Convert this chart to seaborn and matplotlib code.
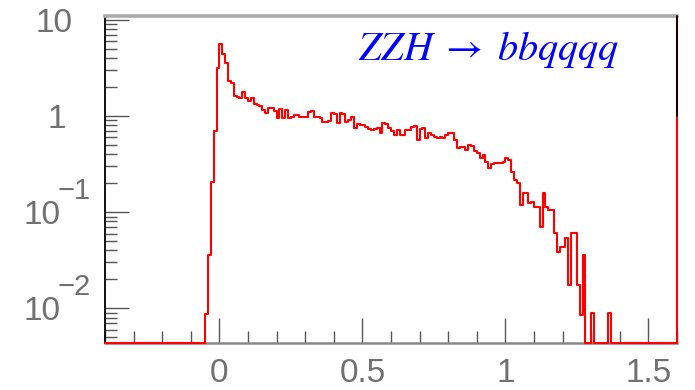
import numpy as np
import pandas as pd
import matplotlib
matplotlib.use("Agg")
import matplotlib.pyplot as plt
import matplotlib.transforms as mtransforms
from matplotlib.ticker import FixedLocator, LogLocator, NullFormatter, MultipleLocator
import seaborn as sns

# ---------------- data ----------------
x_min, x_max = -0.4, 1.6
bin_width = 0.01
y_lo, y_hi = 0.00437, 11.0

# bins left of -0.05 are empty (35 bins)
n_empty_left = 35
# bin contents from -0.05 to 1.36 (bin width 0.01)
bin_values = [
    0.0087, 0.036, 0.206, 0.69, 3.16, 5.60, 4.40, 3.56, 2.31, 2.20,      # -0.05 .. 0.04
    1.61, 1.58, 1.54, 1.78, 1.54, 1.43, 1.54, 1.33, 1.30, 1.27,          # 0.05 .. 0.14
    1.15, 1.07, 1.21, 1.21, 1.13, 0.953, 1.18, 0.953, 1.15, 0.953,       # 0.15 .. 0.24
    0.977, 1.02, 1.02, 0.977, 0.977, 0.977, 1.10, 1.13, 0.977, 0.977,    # 0.25 .. 0.34
    0.953, 0.867, 0.867, 0.887, 1.07, 1.05, 0.846, 1.07, 1.05, 0.867,    # 0.35 .. 0.44
    0.909, 0.977, 0.751, 0.826, 0.806, 0.806, 0.769, 0.733, 0.715, 0.733,  # 0.45 .. 0.54
    0.751, 0.666, 0.846, 0.826, 0.751, 0.698, 0.634, 0.715, 0.634, 0.634,  # 0.55 .. 0.64
    0.715, 0.715, 0.769, 0.787, 0.563, 0.733, 0.751, 0.591, 0.666, 0.634,  # 0.65 .. 0.74
    0.605, 0.591, 0.605, 0.591, 0.634, 0.666, 0.666, 0.563, 0.465, 0.476,  # 0.75 .. 0.84
    0.476, 0.443, 0.500, 0.488, 0.433, 0.412, 0.366, 0.393, 0.333, 0.288,  # 0.85 .. 0.94
    0.317, 0.325, 0.325, 0.325, 0.333, 0.366, 0.349, 0.262, 0.216, 0.201,  # 0.95 .. 1.04
    0.119, 0.158, 0.158, 0.125, 0.128, 0.113, 0.113, 0.070, 0.158, 0.113,  # 1.05 .. 1.14
    0.105, 0.105, 0.0608, 0.0386, 0.0435, 0.0435, 0.0540, 0.0175, 0.0608, 0.0608,  # 1.15 .. 1.24
    0.0175, 0.0085, 0.0359, 0.0, 0.0, 0.0090, 0.0, 0.0, 0.0, 0.0,        # 1.25 .. 1.34
    0.0, 0.0090,                                                          # 1.35 .. 1.36
]
n_bins = int(round((x_max - x_min) / bin_width))
counts = np.zeros(n_bins)
counts[n_empty_left:n_empty_left + len(bin_values)] = bin_values
edges = np.round(x_min + bin_width * np.arange(n_bins + 1), 4)
centers = 0.5 * (edges[:-1] + edges[1:])

x_ticks = [0, 0.5, 1, 1.5]
x_ticklabels = ["0", "0.5", "1", "1.5"]
title_text = r"$ZZH\;\rightarrow\;bbqqqq$"

# ---------------- figure ----------------
sns.set_theme(style="white")
plt.rcParams["font.family"] = ["Liberation Sans", "DejaVu Sans"]
plt.rcParams["mathtext.fontset"] = "stix"

fig = plt.figure(figsize=(6.95, 3.90), dpi=100)
ax = fig.add_axes([105 / 695, 1 - 343 / 390, 572 / 695, (343 - 15.7) / 390])
ax.set_yscale("log")

df = pd.DataFrame({"x": centers, "w": np.clip(counts, y_lo, None)})
sns.histplot(data=df, x="x", weights="w", bins=list(edges), element="step",
             fill=False, color="#ff0000", linewidth=1.5, ax=ax,
             zorder=3, clip_on=False)

ax.set_xlim(x_min, x_max)
ax.set_ylim(y_lo, y_hi)
ax.set_xlabel("")
ax.set_ylabel("")

# right edge: red frame line of the histogram, black axis line above y = 1
frac_one = (0 - np.log10(y_lo)) / (np.log10(y_hi) - np.log10(y_lo))
ax.axvline(x_max, color="#ff0000", lw=1.5, zorder=2.4, clip_on=False)
ax.axvline(x_max, ymin=frac_one, ymax=1, color="black", lw=1.3, zorder=4,
           clip_on=False)
for s in ["top", "left", "bottom"]:
    ax.spines[s].set_visible(True)
ax.spines["right"].set_visible(False)
ax.spines["top"].set_color("#aaaaaa")
ax.spines["top"].set_linewidth(2.6)
ax.spines["bottom"].set_color("#888888")
ax.spines["bottom"].set_linewidth(1.8)
ax.spines["left"].set_color("black")
ax.spines["left"].set_linewidth(1.3)

# ticks
ax.xaxis.set_major_locator(FixedLocator(x_ticks))
ax.xaxis.set_minor_locator(MultipleLocator(0.1))
ax.set_xticklabels(x_ticklabels)
ax.yaxis.set_major_locator(LogLocator(base=10, numticks=10))
ax.yaxis.set_minor_locator(LogLocator(base=10, subs=np.arange(2, 10), numticks=20))
ax.yaxis.set_major_formatter(NullFormatter())
ax.yaxis.set_minor_formatter(NullFormatter())
ax.tick_params(axis="both", which="both", direction="in", color="#555555",
               bottom=True, left=True, top=False, right=False, width=1.0)
ax.tick_params(axis="x", which="major", length=18, pad=10.5, labelsize=24,
               labelcolor="#707070")
ax.tick_params(axis="x", which="minor", length=8.6)
ax.tick_params(axis="y", which="major", length=17.3)
ax.tick_params(axis="y", which="minor", length=8.6)

# y labels in ROOT style
lab_col = "#707070"
down = mtransforms.ScaledTranslation(0, -2.4 / 72, fig.dpi_scale_trans)
tr = mtransforms.blended_transform_factory(ax.transAxes, ax.transData) + down
ax.text((72 - 105) / 572, 10, "10", transform=tr, ha="right", va="center",
        fontsize=24, color=lab_col)
ax.text((66 - 105) / 572, 1, "1", transform=tr, ha="right", va="center",
        fontsize=24, color=lab_col)
for val, expo in [(0.1, "\u22121"), (0.01, "\u22122")]:
    ax.text((60 - 105) / 572, val, "10", transform=tr, ha="right", va="center",
            fontsize=24, color=lab_col)
    off = mtransforms.ScaledTranslation(0, 17.5 / 72, fig.dpi_scale_trans)
    ax.text((58 - 105) / 572, val, expo, transform=tr + off, ha="left",
            va="center", fontsize=21, color=lab_col)

ax.text((358 - 105) / 572, (343 - 60) / 327.3, title_text, transform=ax.transAxes,
        ha="left", va="baseline", fontsize=29, color="#0000ff")

fig.savefig("out.png", dpi=100)
